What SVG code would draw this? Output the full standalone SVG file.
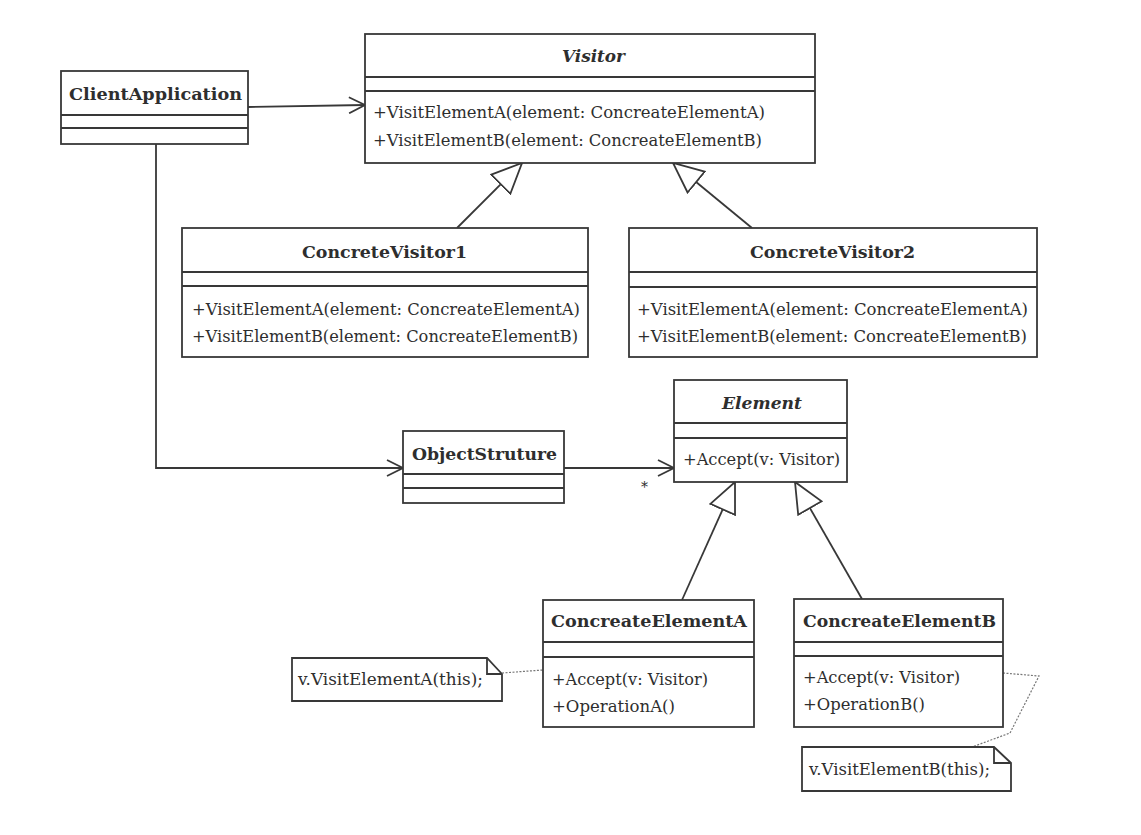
<svg xmlns="http://www.w3.org/2000/svg" width="1141" height="835" viewBox="0 0 1141 835">
<style>
.box{fill:#fff;stroke:#383838;stroke-width:1.8}
.sep{stroke:#383838;stroke-width:1.8}
text{font-family:"DejaVu Serif","Liberation Serif",serif;fill:#2e2e2e;font-size:17.5px}
.t{font-weight:bold;font-size:17.5px}
.ti{font-weight:bold;font-style:italic;font-size:17.5px}
.ln{fill:none;stroke:#383838;stroke-width:1.8}
.dot{fill:none;stroke:#777;stroke-width:1.2;stroke-dasharray:2 1.5}
.note{fill:#fff;stroke:#383838;stroke-width:1.8}
</style>
<defs>
<marker id="open" markerUnits="userSpaceOnUse" viewBox="0 0 18 18" refX="17" refY="9" markerWidth="18" markerHeight="18" orient="auto">
<path d="M1,1 L17,9 L1,17" fill="none" stroke="#383838" stroke-width="1.8"/>
</marker>
<marker id="gen" markerUnits="userSpaceOnUse" viewBox="0 0 32 30" refX="31" refY="15" markerWidth="32" markerHeight="30" orient="auto">
<path d="M1,1.5 L31,15 L1,28.5 Z" fill="#fff" stroke="#383838" stroke-width="1.8"/>
</marker>
</defs>
<rect width="1141" height="835" fill="#fff"/>

<g id="connectors">
<line class="ln" x1="248" y1="107" x2="365" y2="105" marker-end="url(#open)"/>
<path class="ln" d="M156,144 V468 H403" marker-end="url(#open)"/>
<line class="ln" x1="564" y1="468" x2="674" y2="468" marker-end="url(#open)"/>
<line class="ln" x1="457" y1="228" x2="522" y2="163" marker-end="url(#gen)"/>
<line class="ln" x1="752" y1="228" x2="673" y2="163" marker-end="url(#gen)"/>
<line class="ln" x1="682" y1="600" x2="735" y2="482" marker-end="url(#gen)"/>
<line class="ln" x1="862" y1="599" x2="795" y2="482" marker-end="url(#gen)"/>
<line class="dot" x1="502" y1="673" x2="543" y2="670"/>
<polyline class="dot" points="1003,673 1039,676 1010,733 972,747"/>
<text x="641" y="492" style="font-size:14px">*</text>
</g>

<g id="ClientApplication">
<rect class="box" x="61" y="71" width="187" height="73"/>
<line class="sep" x1="61" y1="115" x2="248" y2="115"/>
<line class="sep" x1="61" y1="128" x2="248" y2="128"/>
<text class="t" x="69" y="100" textLength="173" lengthAdjust="spacingAndGlyphs">ClientApplication</text>
</g>

<g id="Visitor">
<rect class="box" x="365" y="34" width="450" height="129"/>
<line class="sep" x1="365" y1="77" x2="815" y2="77"/>
<line class="sep" x1="365" y1="91" x2="815" y2="91"/>
<text class="ti" x="562" y="62" textLength="63" lengthAdjust="spacingAndGlyphs">Visitor</text>
<text x="373" y="118" textLength="392" lengthAdjust="spacingAndGlyphs">+VisitElementA(element: ConcreateElementA)</text>
<text x="373" y="146" textLength="389" lengthAdjust="spacingAndGlyphs">+VisitElementB(element: ConcreateElementB)</text>
</g>

<g id="ConcreteVisitor1">
<rect class="box" x="182" y="228" width="406" height="129"/>
<line class="sep" x1="182" y1="272" x2="588" y2="272"/>
<line class="sep" x1="182" y1="286" x2="588" y2="286"/>
<text class="t" x="302" y="258" textLength="165" lengthAdjust="spacingAndGlyphs">ConcreteVisitor1</text>
<text x="192" y="315" textLength="388" lengthAdjust="spacingAndGlyphs">+VisitElementA(element: ConcreateElementA)</text>
<text x="192" y="342" textLength="386" lengthAdjust="spacingAndGlyphs">+VisitElementB(element: ConcreateElementB)</text>
</g>

<g id="ConcreteVisitor2">
<rect class="box" x="629" y="228" width="408" height="129"/>
<line class="sep" x1="629" y1="272" x2="1037" y2="272"/>
<line class="sep" x1="629" y1="287" x2="1037" y2="287"/>
<text class="t" x="750" y="258" textLength="165" lengthAdjust="spacingAndGlyphs">ConcreteVisitor2</text>
<text x="637" y="315" textLength="391" lengthAdjust="spacingAndGlyphs">+VisitElementA(element: ConcreateElementA)</text>
<text x="637" y="342" textLength="390" lengthAdjust="spacingAndGlyphs">+VisitElementB(element: ConcreateElementB)</text>
</g>

<g id="ObjectStruture">
<rect class="box" x="403" y="431" width="161" height="72"/>
<line class="sep" x1="403" y1="474" x2="564" y2="474"/>
<line class="sep" x1="403" y1="488" x2="564" y2="488"/>
<text class="t" x="412" y="460" textLength="145" lengthAdjust="spacingAndGlyphs">ObjectStruture</text>
</g>

<g id="Element">
<rect class="box" x="674" y="380" width="173" height="102"/>
<line class="sep" x1="674" y1="423" x2="847" y2="423"/>
<line class="sep" x1="674" y1="438" x2="847" y2="438"/>
<text class="ti" x="722" y="409" textLength="80" lengthAdjust="spacingAndGlyphs">Element</text>
<text x="683" y="465" textLength="157" lengthAdjust="spacingAndGlyphs">+Accept(v: Visitor)</text>
</g>

<g id="ConcreateElementA">
<rect class="box" x="543" y="600" width="211" height="127"/>
<line class="sep" x1="543" y1="642" x2="754" y2="642"/>
<line class="sep" x1="543" y1="657" x2="754" y2="657"/>
<text class="t" x="551" y="627" textLength="196" lengthAdjust="spacingAndGlyphs">ConcreateElementA</text>
<text x="552" y="685" textLength="156" lengthAdjust="spacingAndGlyphs">+Accept(v: Visitor)</text>
<text x="552" y="712" textLength="123" lengthAdjust="spacingAndGlyphs">+OperationA()</text>
</g>

<g id="ConcreateElementB">
<rect class="box" x="794" y="599" width="209" height="128"/>
<line class="sep" x1="794" y1="642" x2="1003" y2="642"/>
<line class="sep" x1="794" y1="656" x2="1003" y2="656"/>
<text class="t" x="803" y="627" textLength="193" lengthAdjust="spacingAndGlyphs">ConcreateElementB</text>
<text x="803" y="683" textLength="157" lengthAdjust="spacingAndGlyphs">+Accept(v: Visitor)</text>
<text x="803" y="710" textLength="122" lengthAdjust="spacingAndGlyphs">+OperationB()</text>
</g>

<g id="NoteA">
<path class="note" d="M292,658 H487 L502,674 V701 H292 Z"/>
<path class="ln" d="M487,658 V674 H502"/>
<text x="298" y="685" textLength="185" lengthAdjust="spacingAndGlyphs">v.VisitElementA(this);</text>
</g>

<g id="NoteB">
<path class="note" d="M802,747 H994 L1011,763 V791 H802 Z"/>
<path class="ln" d="M994,747 V763 H1011"/>
<text x="809" y="775" textLength="181" lengthAdjust="spacingAndGlyphs">v.VisitElementB(this);</text>
</g>
</svg>
